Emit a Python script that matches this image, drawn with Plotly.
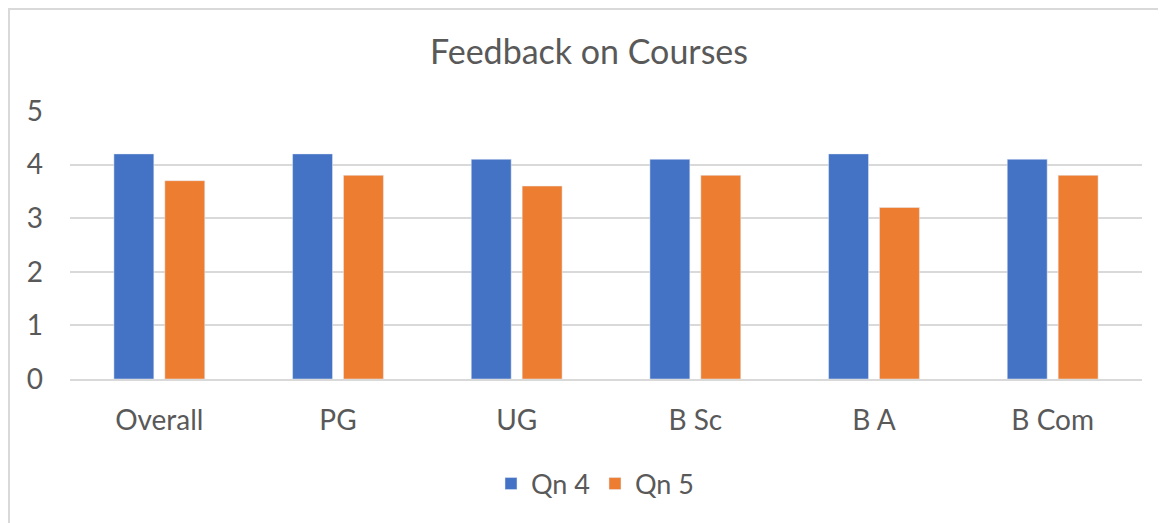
import plotly.graph_objects as go

categories = ["Overall", "PG", "UG", "B Sc", "B A", "B Com"]
qn4 = [4.2, 4.2, 4.1, 4.1, 4.2, 4.1]
qn5 = [3.7, 3.8, 3.6, 3.8, 3.2, 3.8]
series_names = ["Qn 4", "Qn 5"]
y_ticks = [0, 1, 2, 3, 4, 5]

# page body has an 8px margin, so figure coordinates = screen - 8
OFF = 8
W, H = 1166, 523
L, R, T, B = 70 - OFF, 32, 111 - OFF, 152
pw = W - L - R
ph = H - T - B

def px_to_paper_x(x):
    return (x - OFF - L) / pw

def px_to_paper_y(y):
    return (H - B - (y - OFF)) / ph

font_family = "Lato, Open Sans, sans-serif"
txt = "#595959"

fig = go.Figure()
fig.add_trace(go.Bar(x=categories, y=qn4, name=series_names[0], marker=dict(color="#4472C4")))
fig.add_trace(go.Bar(x=categories, y=qn5, name=series_names[1], marker=dict(color="#ED7D31")))

fig.update_layout(
    width=W, height=H,
    margin=dict(l=L, r=R, t=T, b=B, pad=0),
    paper_bgcolor="white", plot_bgcolor="white",
    barmode="group", bargap=0.43, bargroupgap=0.216,
    font=dict(family=font_family, color=txt, size=28),
    title=dict(text="Feedback on Courses", xref="container", x=(589 - OFF) / W,
               xanchor="center",
               y=1 - (52 - OFF) / H, yanchor="middle",
               font=dict(size=34, color=txt, family=font_family)),
    legend=dict(orientation="h", x=px_to_paper_x(595), xanchor="center",
                y=px_to_paper_y(484), yanchor="middle",
                font=dict(size=27, color=txt), itemwidth=30,
                traceorder="normal"),
    showlegend=True,
    shapes=[dict(type="rect", xref="paper", yref="paper",
                 x0=px_to_paper_x(9), x1=px_to_paper_x(1185),
                 y0=px_to_paper_y(560), y1=px_to_paper_y(9),
                 line=dict(color="#d9d9d9", width=2), layer="below")],
)
fig.update_yaxes(range=[0, 5], tickvals=y_ticks, showgrid=True, gridcolor="#d9d9d9",
                 gridwidth=1.5, zeroline=False, showline=False, ticks="",
                 ticklabelstandoff=26, tickfont=dict(size=28, color=txt))
fig.update_xaxes(showline=True, linecolor="#d9d9d9", linewidth=1.5, ticks="",
                 ticklabelstandoff=16, tickfont=dict(size=28, color=txt))

fig.write_html("out.html")
